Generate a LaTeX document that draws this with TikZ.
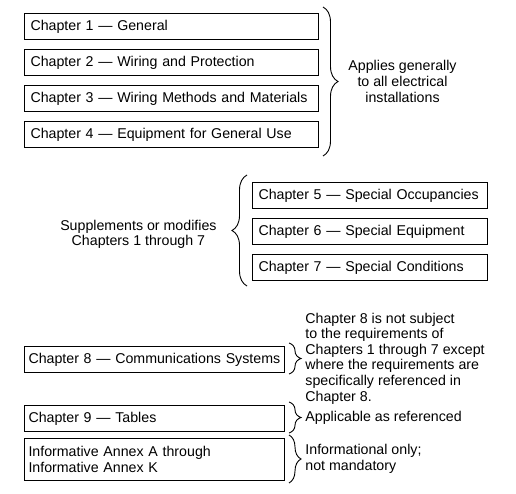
\documentclass[tikz,border=0pt]{standalone}
\usepackage{fontspec}
\setmainfont{Liberation Sans}
\usetikzlibrary{positioning, calc, decorations.pathreplacing}

\begin{document}
\begin{tikzpicture}[x=1pt, y=-1pt, node distance=9pt,
    chap/.style={draw, line width=1pt, anchor=north west, minimum height=26pt,
        inner xsep=6pt, inner ysep=0pt, text width=#1, align=left,
        font=\fontsize{14.2}{15.6}\selectfont},
    note/.style={font=\fontsize{14.2}{15.6}\selectfont, inner sep=0pt},
    brc/.style={decorate, decoration={brace, amplitude=#1}, line width=0.9pt},
    brc/.default=12pt]
    \useasboundingbox (0,0) rectangle (516,494);

    \node[chap=282pt] (c1) at (24,13) {Chapter 1 --- General};
    \node[chap=282pt] (c2) [below=of c1] {Chapter 2 --- Wiring and Protection};
    \node[chap=282pt] (c3) [below=of c2] {Chapter 3 --- Wiring Methods and Materials};
    \node[chap=282pt] (c4) [below=of c3] {Chapter 4 --- Equipment for General Use};

    \node[chap=223pt] (c5) at (252,182) {Chapter 5 --- Special Occupancies};
    \node[chap=223pt] (c6) [below=of c5] {Chapter 6 --- Special Equipment};
    \node[chap=223pt] (c7) [below=of c6] {Chapter 7 --- Special Conditions};

    \node[chap=252pt, inner xsep=4pt] (c8) at (24,346) {Chapter 8 --- Communications Systems};
    \node[chap=252pt, inner xsep=4pt] (c9) at (24,405) {Chapter 9 --- Tables};
    \node[chap=252pt, inner xsep=4pt, minimum height=42pt] (annex) at (24,438)
        {Informative Annex A through\\Informative Annex K};

    \draw[brc=15pt] ($(c1.north east)+(4,-6)$) -- node[note, align=center, right=25pt] (general)
        {Applies generally\\to all electrical\\installations} ($(c4.south east)+(4,8)$);
    \draw[brc=15pt] ($(c7.south west)+(-5,5)$) -- node[note, align=center, left=30pt, yshift=-4pt] (special)
        {Supplements or modifies\\Chapters 1 through 7} ($(c5.north west)+(-5,-7)$);
    \draw[brc] ($(c8.north east)+(4,-3)$) -- node[note, align=left, right=16pt] (comm)
        {Chapter 8 is not subject\\to the requirements of\\Chapters 1 through 7 except\\where the requirements are\\specifically referenced in\\Chapter 8.} ($(c8.south east)+(4,1)$);
    \draw[brc] ($(c9.north east)+(4,-3)$) -- node[note, align=left, right=16pt] (tables)
        {Applicable as referenced} ($(c9.south east)+(4,1)$);
    \draw[brc] ($(annex.north east)+(4,-3)$) -- node[note, align=left, right=16pt] (info)
        {Informational only;\\not mandatory} ($(annex.south east)+(4,2)$);
\end{tikzpicture}
\end{document}
